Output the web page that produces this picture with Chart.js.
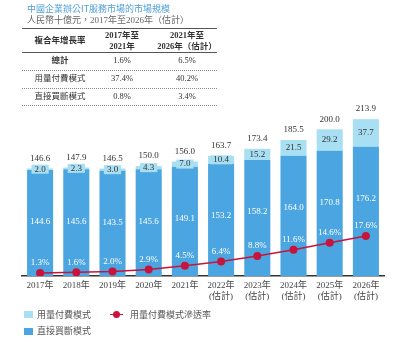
<!DOCTYPE html>
<html>
<head>
<meta charset="utf-8">
<script src="https://cdn.jsdelivr.net/npm/chart.js@4/dist/chart.umd.min.js"></script>
<style>
  body { margin: 0; background: #fff; font-family: 'Liberation Serif', 'Noto Sans CJK TC', serif; color: #333; }
  #wrap { position: absolute; left: 0; top: 0; width: 400px; height: 342px; }
  .t { position: absolute; white-space: nowrap; line-height: 1; }
  .c { transform: translate(-50%, -50%); }
  .l { transform: translateY(-50%); }
  .b { font-weight: bold; }
  .hr { position: absolute; left: 22px; width: 195px; height: 0; }
  .sq { position: absolute; width: 9px; height: 7px; }
</style>
</head>
<body>
<div id="wrap"><canvas id="chart"></canvas></div>

<div class="t l" style="left:27px;top:8px;font-size:9px;color:#4f9fd8;font-family:'Noto Sans CJK TC',sans-serif;">中國企業辦公IT服務市場的市場規模</div>
<div class="t l" style="left:27px;top:20px;font-size:9px;color:#666;">人民幣十億元，2017年至2026年（估計）</div>

<div class="hr" style="top:28px;border-top:1px solid #555;"></div>
<div class="hr" style="top:52px;border-top:1px solid #555;"></div>
<div class="hr" style="top:70px;border-top:1px dotted #888;"></div>
<div class="hr" style="top:88px;border-top:1px dotted #888;"></div>
<div class="hr" style="top:105px;border-top:1px dotted #888;"></div>
<div id="table"></div>

<div class="sq" style="left:24px;top:311px;background:#a9dff2;"></div>
<div class="t l" style="left:37px;top:315px;font-size:9px;color:#555;">用量付費模式</div>
<div style="position:absolute;left:110px;top:314px;width:13px;border-top:1.5px solid #c8143c;"></div>
<div style="position:absolute;left:113px;top:311px;width:7px;height:7px;border-radius:50%;background:#c8143c;"></div>
<div class="t l" style="left:130px;top:315px;font-size:9px;color:#555;">用量付費模式滲透率</div>
<div class="sq" style="left:24px;top:328px;background:#4aa5e1;"></div>
<div class="t l" style="left:37px;top:331px;font-size:9px;color:#555;">直接買斷模式</div>

<script>
// 市場規模（人民幣十億元）
const years = [['2017年'], ['2018年'], ['2019年'], ['2020年'], ['2021年'],
  ['2022年', '(估計)'], ['2023年', '(估計)'], ['2024年', '(估計)'], ['2025年', '(估計)'], ['2026年', '(估計)']];
const directValues = [144.6, 145.6, 143.5, 145.6, 149.1, 153.2, 158.2, 164.0, 170.8, 176.2];
const usageValues = [2.0, 2.3, 3.0, 4.3, 7.0, 10.4, 15.2, 21.5, 29.2, 37.7];
const totals = [146.6, 147.9, 146.5, 150.0, 156.0, 163.7, 173.4, 185.5, 200.0, 213.9];
const penetration = [1.3, 1.6, 2.0, 2.9, 4.5, 6.4, 8.8, 11.6, 14.6, 17.6];

// 複合年增長率表
const cagrHeader = ['複合年增長率', ['2017年至', '2021年'], ['2021年至', '2026年（估計）']];
const cagrRows = [
  ['總計', '1.6%', '6.5%'],
  ['用量付費模式', '37.4%', '40.2%'],
  ['直接買斷模式', '0.8%', '3.4%']
];

const colX = [60, 122, 187];
const rowY = [60, 78, 96];
let html = '';
html += '<div class="t c b" style="left:' + colX[0] + 'px;top:40px;font-size:8.5px;">' + cagrHeader[0] + '</div>';
[1, 2].forEach(function (c) {
  html += '<div class="t c b" style="left:' + colX[c] + 'px;top:35px;font-size:8.5px;">' + cagrHeader[c][0] + '</div>';
  html += '<div class="t c b" style="left:' + colX[c] + 'px;top:46px;font-size:8.5px;">' + cagrHeader[c][1] + '</div>';
});
cagrRows.forEach(function (row, r) {
  row.forEach(function (cell, c) {
    const bold = (r === 0 && c === 0) ? ' b' : '';
    html += '<div class="t c' + bold + '" style="left:' + colX[c] + 'px;top:' + rowY[r] + 'px;font-size:8.5px;">' + cell + '</div>';
  });
});
document.getElementById('table').innerHTML = html;

const FONT = "'Liberation Serif', 'Noto Sans CJK TC', serif";
Chart.defaults.font.family = FONT;

const labelPlugin = {
  id: 'valueLabels',
  afterDatasetsDraw(chart) {
    const ctx = chart.ctx;
    const direct = chart.getDatasetMeta(0).data;
    const usage = chart.getDatasetMeta(1).data;
    const rate = chart.getDatasetMeta(2).data;
    ctx.save();
    ctx.font = '9px ' + FONT;
    ctx.textAlign = 'center';
    ctx.textBaseline = 'middle';
    for (let i = 0; i < years.length; i++) {
      const d = direct[i], u = usage[i], p = rate[i];
      ctx.fillStyle = '#ffffff';
      ctx.fillText(directValues[i].toFixed(1), d.x, d.y + 52);
      const uy = (u.y + u.base) / 2;
      const txt = usageValues[i].toFixed(1);
      // 細小區段：標籤底色
      if (u.base - u.y < 10) {
        const w = ctx.measureText(txt).width + 6;
        ctx.fillStyle = '#a9dff2';
        ctx.fillRect(u.x - w / 2, uy - 4.5, w, 9);
      }
      ctx.fillStyle = '#333333';
      ctx.fillText(txt, u.x, uy);
      ctx.fillText(totals[i].toFixed(1), u.x, u.y - 10);
      ctx.fillStyle = '#ffffff';
      ctx.fillText(penetration[i].toFixed(1) + '%', p.x, p.y - 10);
    }
    ctx.restore();
  }
};

new Chart(document.getElementById('chart').getContext('2d'), {
  type: 'bar',
  data: {
    labels: years,
    datasets: [
      {
        label: '直接買斷模式',
        data: directValues,
        backgroundColor: '#4aa5e1',
        barPercentage: 0.72,
        categoryPercentage: 1,
        stack: 's',
        order: 1
      },
      {
        label: '用量付費模式',
        data: usageValues,
        backgroundColor: '#a9dff2',
        barPercentage: 0.72,
        categoryPercentage: 1,
        stack: 's',
        order: 1
      },
      {
        type: 'line',
        label: '用量付費模式滲透率',
        data: penetration,
        yAxisID: 'y1',
        borderColor: '#c8143c',
        backgroundColor: '#c8143c',
        borderWidth: 1.5,
        pointRadius: 4,
        pointBackgroundColor: '#c8143c',
        pointBorderWidth: 0,
        tension: 0,
        order: 0
      }
    ]
  },
  options: {
    responsive: true,
    maintainAspectRatio: false,
    animation: false,
    layout: { padding: { top: 100, left: 22, right: 16, bottom: 0 } },
    plugins: { legend: { display: false }, tooltip: { enabled: false } },
    scales: {
      x: {
        stacked: true,
        grid: { display: false },
        border: { display: true, color: '#333', width: 1.5 },
        ticks: { color: '#444', padding: -4, font: { size: 9, lineHeight: 1.2 }, maxRotation: 0, autoSkip: false },
        afterFit: function (scale) { scale.height = 66; }
      },
      y: { stacked: true, display: false, min: 0, max: 240 },
      y1: { display: false, min: 0, max: 77.5 }
    }
  },
  plugins: [labelPlugin]
});
</script>
</body>
</html>
